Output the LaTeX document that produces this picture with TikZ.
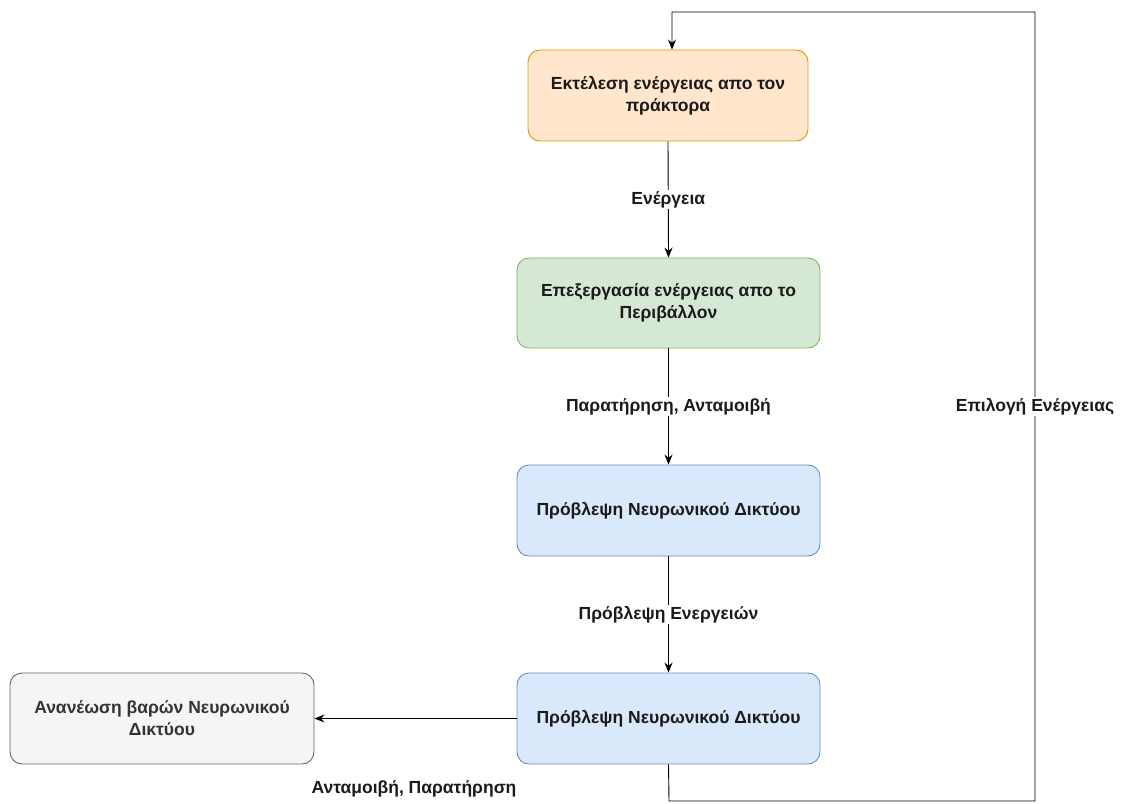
\documentclass[tikz,border=0pt]{standalone}
\usepackage{fontspec}
\setmainfont{Liberation Sans}
\usetikzlibrary{arrows.meta}
\definecolor{orfill}{HTML}{FFE6CC}\definecolor{ordraw}{HTML}{D79B00}
\definecolor{grfill}{HTML}{D5E8D4}\definecolor{grdraw}{HTML}{82B366}
\definecolor{blfill}{HTML}{DAE8FC}\definecolor{bldraw}{HTML}{6C8EBF}
\definecolor{gyfill}{HTML}{F5F5F5}\definecolor{gydraw}{HTML}{666666}
\definecolor{gytext}{HTML}{333333}
\definecolor{txt}{HTML}{1A1A1A}
\tikzset{
  box/.style={draw, rounded corners=12pt, line width=0.9pt, align=center, text=txt,
    font=\bfseries\fontsize{17.5}{22}\selectfont, inner sep=0pt},
  lbl/.style={font=\bfseries\fontsize{17.5}{20}\selectfont, text=txt, fill=white, inner sep=1.5pt},
  arr/.style={-{Stealth[length=10pt,width=8pt]}, line width=0.9pt}
}
\begin{document}
\begin{tikzpicture}[x=1pt,y=-1pt]
\useasboundingbox (0,0) rectangle (1121,803);
\node[box, fill=orfill, draw=ordraw, minimum width=280pt, minimum height=91pt] (b1) at (668,95.5) {Εκτέλεση ενέργειας απο τον\\πράκτορα};
\node[box, fill=grfill, draw=grdraw, minimum width=303pt, minimum height=90pt] (b2) at (668.5,303) {Επεξεργασία ενέργειας απο το\\Περιβάλλον};
\node[box, fill=blfill, draw=bldraw, minimum width=303pt, minimum height=91pt] (b3) at (668.5,510.5) {Πρόβλεψη Νευρωνικού Δικτύου};
\node[box, fill=blfill, draw=bldraw, minimum width=303pt, minimum height=91pt] (b4) at (668.5,718.5) {Πρόβλεψη Νευρωνικού Δικτύου};
\node[box, fill=gyfill, draw=gydraw, text=gytext, minimum width=304pt, minimum height=91pt] (b5) at (162,718.5) {Ανανέωση βαρών Νευρωνικού\\Δικτύου};
\draw[arr] (b1.south) -- node[lbl]{Ενέργεια} (b2.north);
\draw[arr] (b2.south) -- node[lbl]{Παρατήρηση, Ανταμοιβή} (b3.north);
\draw[arr] (b3.south) -- node[lbl]{Πρόβλεψη Ενεργειών} (b4.north);
\draw[arr] (b4.west) -- (b5.east);
\node[lbl] (l5) at (414,789) {Ανταμοιβή, Παρατήρηση};
\coordinate (c1) at (669,801);
\coordinate (c2) at (1035,801);
\coordinate (c3) at (1035,12);
\coordinate (c4) at (672,12);
\draw[arr] (b4.south) -- (c1) -- (c2) -- node[lbl, pos=0.5]{Επιλογή Ενέργειας} (c3) -- (c4) -- (b1.north -| c4);
\end{tikzpicture}
\end{document}
